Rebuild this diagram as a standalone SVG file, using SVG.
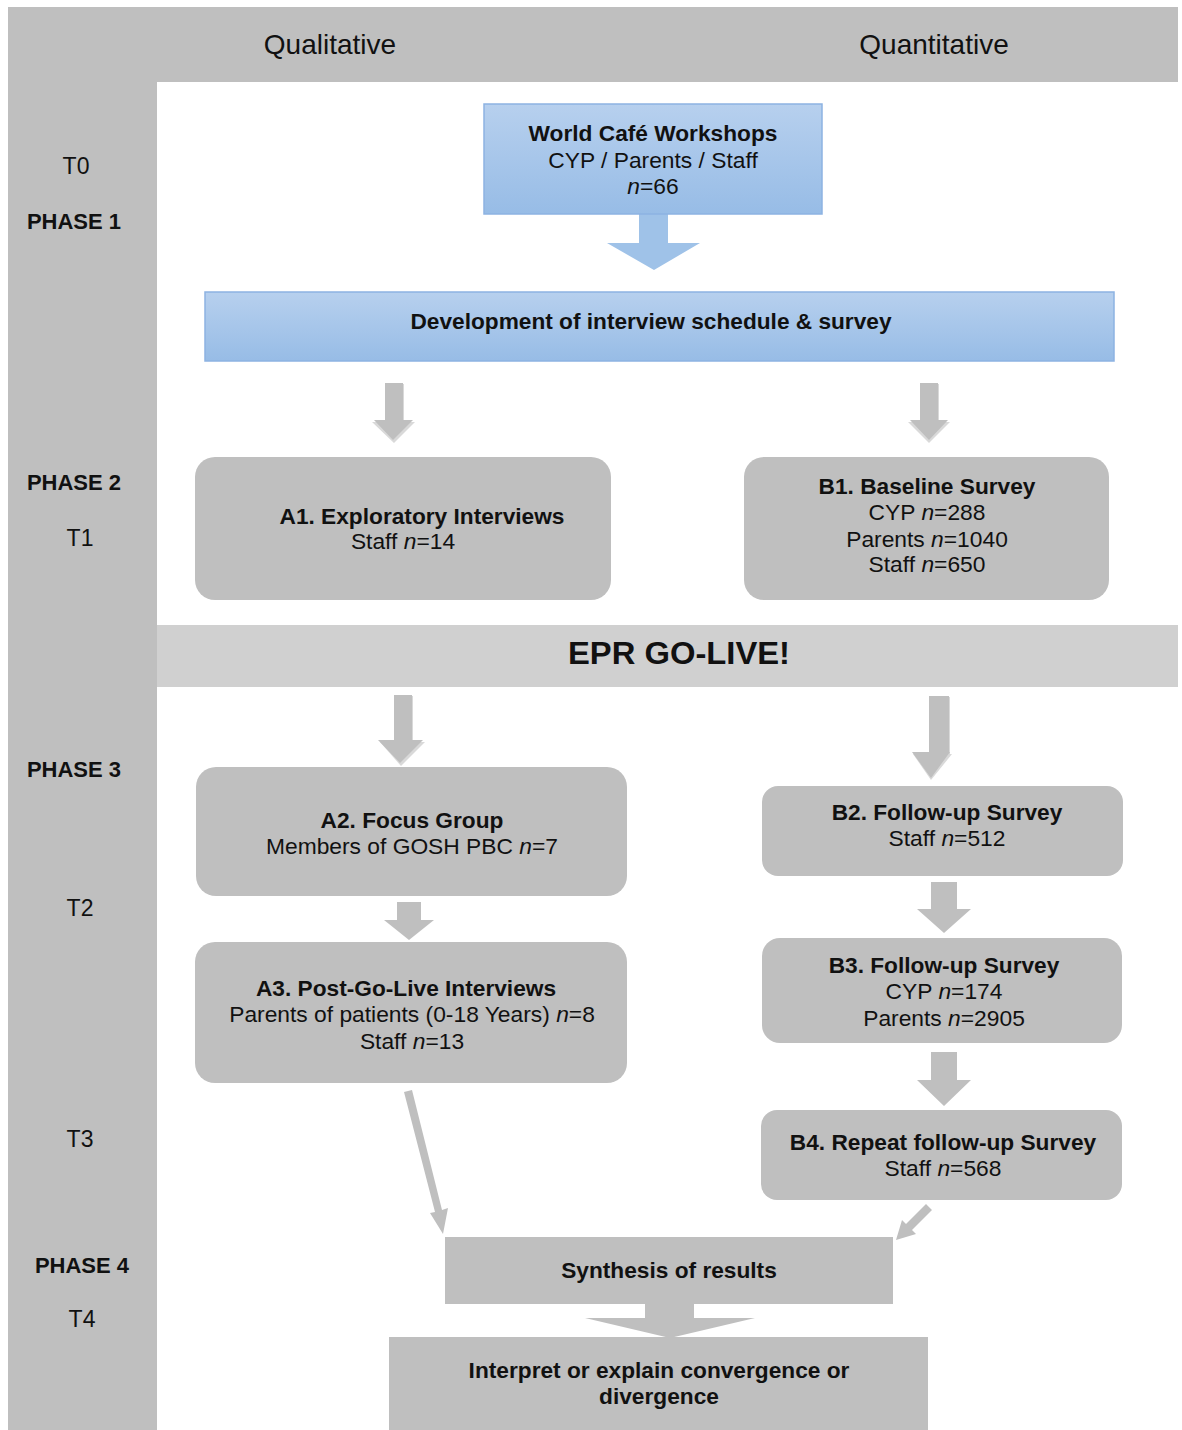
<svg xmlns="http://www.w3.org/2000/svg" width="1182" height="1430" viewBox="0 0 1182 1430">
<defs>
<linearGradient id="blue" x1="0" y1="0" x2="0" y2="1">
<stop offset="0" stop-color="#b7d0ee"/>
<stop offset="1" stop-color="#97bce6"/>
</linearGradient>
<style>
text{font-family:"Liberation Sans",Arial,sans-serif;fill:#111;text-anchor:middle}
.h{font-size:28px}
.lbl{font-size:23px}
.lblb{font-size:22px;font-weight:bold}
.t{font-size:22.8px}
.b{font-size:22.7px;font-weight:bold}
.gbox{fill:#bfbfbf}
.bbox{fill:url(#blue);stroke:#8db3e2;stroke-width:1.5}
.arr{fill:#bfbfbf}
.sh{fill:#d9d9d9}
</style>
</defs>
<rect width="1182" height="1430" fill="#fff"/>
<g id="frame">
<rect x="8" y="7" width="1170" height="75" fill="#bfbfbf"/>
<rect x="8" y="7" width="149" height="1423" fill="#bfbfbf"/>
<text class="h" x="330" y="54">Qualitative</text>
<text class="h" x="934" y="54">Quantitative</text>
<text class="lbl" x="76" y="174">T0</text>
<text class="lblb" x="74" y="229">PHASE 1</text>
<text class="lblb" x="74" y="490">PHASE 2</text>
<text class="lbl" x="80" y="546">T1</text>
<text class="lblb" x="74" y="777">PHASE 3</text>
<text class="lbl" x="80" y="916">T2</text>
<text class="lbl" x="80" y="1147">T3</text>
<text class="lblb" x="82" y="1273">PHASE 4</text>
<text class="lbl" x="82" y="1327">T4</text>
</g>
<g id="epr">
<rect x="157" y="625" width="1021" height="62" fill="#d0d0d0"/>
<text x="679" y="664" style="font-size:32px;font-weight:bold" textLength="222" lengthAdjust="spacingAndGlyphs">EPR GO-LIVE!</text>
</g>
<g id="connectors">
<polygon fill="#9fc2e8" points="639,214 668,214 668,243 700,243 654,270 607,243 639,243"/>
<polygon class="sh" points="386,384 404,384 404,422 415,422 394,443 372,422 386,422"/>
<polygon class="arr" points="385,383 403,383 403,420 413,420 393,440 374,420 385,420"/>
<polygon class="sh" points="921,384 939,384 939,422 950,422 929,443 908,422 921,422"/>
<polygon class="arr" points="920,383 938,383 938,420 948,420 929,440 910,420 920,420"/>
<polygon class="sh" points="395,696 413,696 413,742 425,742 401,766 380,742 395,742"/>
<polygon class="arr" points="394,695 412,695 412,740 423,740 400,763 378,740 394,740"/>
<polygon class="sh" points="930,697 950,697 950,754 952,754 931,780 913,754 930,754"/>
<polygon class="arr" points="929,696 949,696 949,752 950,752 931,778 912,752 929,752"/>
<polygon class="arr" points="397,902 421,902 421,920 434,920 409,940 384,920 397,920"/>
<polygon class="arr" points="931,882 957,882 957,909 971,909 944,933 917,909 931,909"/>
<polygon class="arr" points="931,1052 957,1052 957,1080 971,1080 944,1106 917,1080 931,1080"/>
<polygon class="arr" points="404,1092 412,1090 442,1210 448,1208 443,1234 430,1213 435,1212"/>
<polygon class="arr" points="926,1204 932,1210 912,1230 916,1234 896,1240 902,1220 906,1224"/>
<polygon class="arr" points="645,1304 694,1304 694,1318 755,1318 670,1338 585,1318 645,1318"/>
</g>
<g id="worldcafe">
<rect class="bbox" x="484" y="104" width="338" height="110"/>
<text class="b" x="653" y="141">World Café Workshops</text>
<text class="t" x="653" y="168">CYP / Parents / Staff</text>
<text class="t" x="653" y="194"><tspan font-style="italic">n</tspan>=66</text>
</g>
<g id="development">
<rect class="bbox" x="205" y="292" width="909" height="69"/>
<text class="b" x="651" y="329" textLength="481" lengthAdjust="spacingAndGlyphs">Development of interview schedule &amp; survey</text>
</g>
<g id="A1">
<rect class="gbox" x="195" y="457" width="416" height="143" rx="20"/>
<text class="b" x="422" y="524">A1. Exploratory Interviews</text>
<text class="t" x="403" y="549">Staff <tspan font-style="italic">n</tspan>=14</text>
</g>
<g id="B1">
<rect class="gbox" x="744" y="457" width="365" height="143" rx="20"/>
<text class="b" x="927" y="494">B1. Baseline Survey</text>
<text class="t" x="927" y="520">CYP <tspan font-style="italic">n</tspan>=288</text>
<text class="t" x="927" y="547">Parents <tspan font-style="italic">n</tspan>=1040</text>
<text class="t" x="927" y="572">Staff <tspan font-style="italic">n</tspan>=650</text>
</g>
<g id="A2">
<rect class="gbox" x="196" y="767" width="431" height="129" rx="20"/>
<text class="b" x="412" y="828">A2. Focus Group</text>
<text class="t" x="412" y="854">Members of GOSH PBC <tspan font-style="italic">n</tspan>=7</text>
</g>
<g id="B2">
<rect class="gbox" x="762" y="786" width="361" height="90" rx="16"/>
<text class="b" x="947" y="820">B2. Follow-up Survey</text>
<text class="t" x="947" y="846">Staff <tspan font-style="italic">n</tspan>=512</text>
</g>
<g id="A3">
<rect class="gbox" x="195" y="942" width="432" height="141" rx="20"/>
<text class="b" x="406" y="996">A3. Post-Go-Live Interviews</text>
<text class="t" x="412" y="1022">Parents of patients (0-18 Years) <tspan font-style="italic">n</tspan>=8</text>
<text class="t" x="412" y="1049">Staff <tspan font-style="italic">n</tspan>=13</text>
</g>
<g id="B3">
<rect class="gbox" x="762" y="938" width="360" height="105" rx="18"/>
<text class="b" x="944" y="973">B3. Follow-up Survey</text>
<text class="t" x="944" y="999">CYP <tspan font-style="italic">n</tspan>=174</text>
<text class="t" x="944" y="1026">Parents <tspan font-style="italic">n</tspan>=2905</text>
</g>
<g id="B4">
<rect class="gbox" x="761" y="1110" width="361" height="90" rx="16"/>
<text class="b" x="943" y="1150">B4. Repeat follow-up Survey</text>
<text class="t" x="943" y="1176">Staff <tspan font-style="italic">n</tspan>=568</text>
</g>
<g id="synthesis">
<rect class="gbox" x="445" y="1237" width="448" height="67"/>
<text class="b" x="669" y="1278">Synthesis of results</text>
</g>
<g id="interpret">
<rect class="gbox" x="389" y="1337" width="539" height="93"/>
<text class="b" x="659" y="1378">Interpret or explain convergence or</text>
<text class="b" x="659" y="1404">divergence</text>
</g>
</svg>
